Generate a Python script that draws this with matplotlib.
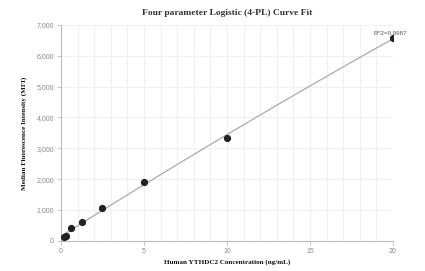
import matplotlib
matplotlib.use("Agg")
import matplotlib.pyplot as plt
import numpy as np
from matplotlib.ticker import FuncFormatter, MultipleLocator

# standard concentrations (ng/mL) and measured MFI
conc = [0.156, 0.3125, 0.625, 1.25, 2.5, 5, 10, 20]
mfi = [125, 145, 420, 600, 1065, 1915, 3330, 6575]
r2_text = "R^2=0.9987"

title = "Four parameter Logistic (4-PL) Curve Fit"
xlabel = "Human YTHDC2 Concentration (ng/mL)"
ylabel = "Median Fluorescence Intensity (MFI)"

# smooth fitted curve from the data
coef = np.polyfit(conc, mfi, 2)
xs = np.linspace(0, 20, 200)
ys = np.polyval(coef, xs)

fig = plt.figure(figsize=(4.25, 2.71), dpi=100)
ax = fig.add_axes([0.1435, 0.1118, 0.7812, 0.7959])

ax.plot(xs, ys, "-", color="#aaaaaa", lw=0.9, zorder=2)
ax.plot(conc, mfi, "o", color="#222222", ms=4.2, zorder=3)
ax.annotate(r2_text, (conc[-1], mfi[-1]), xytext=(-2, 1.5),
            textcoords="offset points", ha="center", va="bottom",
            fontsize=4.5, color="#555555", fontfamily="Liberation Sans",
            zorder=4)

ax.set_xlim(0, 20)
ax.set_ylim(0, 7000)
ax.xaxis.set_major_locator(MultipleLocator(5))
ax.xaxis.set_minor_locator(MultipleLocator(1))
ax.yaxis.set_major_locator(MultipleLocator(1000))
ax.yaxis.set_major_formatter(FuncFormatter(lambda v, p: "{:,.0f}".format(v)))
ax.grid(which="both", color="#eef0f6", lw=0.8, zorder=0)
ax.set_axisbelow(True)

for s in ["top", "right"]:
    ax.spines[s].set_visible(False)
for s in ["left", "bottom"]:
    ax.spines[s].set_color("#bbbbbb")
    ax.spines[s].set_linewidth(0.8)
ax.tick_params(which="major", length=3, width=0.6, color="#bbbbbb",
               labelsize=5, labelcolor="#888888", pad=2)
ax.tick_params(which="minor", length=0)
for lab in ax.get_xticklabels() + ax.get_yticklabels():
    lab.set_fontfamily("Liberation Sans")

ax.set_title(title, fontfamily="Liberation Serif", fontweight="bold",
             fontsize=6.8, color="#333333", pad=7)
ax.set_xlabel(xlabel, fontfamily="Liberation Serif", fontweight="bold",
              fontsize=5.1, color="#111111", labelpad=3.5)
ax.set_ylabel(ylabel, fontfamily="Liberation Serif", fontweight="bold",
              fontsize=5.1, color="#111111", labelpad=7)

plt.savefig("out.png", dpi=100)
